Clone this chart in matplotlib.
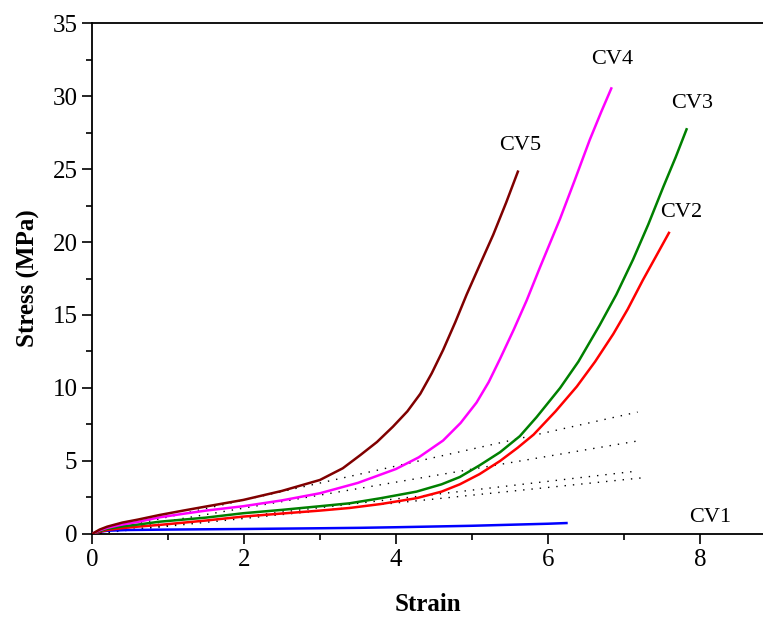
import matplotlib
matplotlib.use("Agg")
import matplotlib.pyplot as plt
from matplotlib.ticker import MultipleLocator

plt.rcParams["font.family"] = ["Liberation Serif", "DejaVu Serif"]

# strain / stress readings per sample
cv1_x = [0, 0.1, 0.2, 0.46, 1, 2, 3, 3.53, 4, 5, 6, 6.26]
cv1_y = [0, 0.15, 0.22, 0.27, 0.3, 0.34, 0.39, 0.42, 0.46, 0.56, 0.7, 0.75]

cv2_x = [0, 0.1, 0.2, 0.4, 0.6, 0.89, 1.5, 1.99, 2.5, 3.0, 3.39, 3.8, 4.27, 4.6,
         4.84, 5.1, 5.37, 5.6, 5.81, 6.1, 6.38, 6.62, 6.86, 7.05, 7.25, 7.42, 7.6]
cv2_y = [0, 0.15, 0.27, 0.4, 0.5, 0.62, 0.92, 1.19, 1.4, 1.6, 1.78, 2.05, 2.45, 2.9,
         3.4, 4.1, 5.0, 5.9, 6.8, 8.4, 10.1, 11.8, 13.7, 15.4, 17.4, 19.0, 20.7]

cv3_x = [0, 0.1, 0.2, 0.4, 0.6, 0.89, 1.5, 1.99, 2.5, 3.0, 3.39, 3.8, 4.27, 4.6,
         4.84, 5.1, 5.37, 5.63, 5.85, 6.16, 6.4, 6.68, 6.9, 7.12, 7.32, 7.52, 7.68, 7.83]
cv3_y = [0, 0.2, 0.35, 0.52, 0.64, 0.84, 1.12, 1.42, 1.65, 1.9, 2.1, 2.45, 2.9, 3.4,
         3.9, 4.7, 5.6, 6.7, 8.0, 10.0, 11.8, 14.3, 16.4, 18.8, 21.2, 23.8, 25.8, 27.8]

cv4_x = [0, 0.1, 0.2, 0.4, 0.6, 0.89, 1.2, 1.5, 1.99, 2.5, 3.0, 3.5, 4.0, 4.3,
         4.62, 4.85, 5.06, 5.22, 5.37, 5.55, 5.72, 5.89, 6.16, 6.35, 6.55, 6.7, 6.84]
cv4_y = [0, 0.25, 0.42, 0.65, 0.82, 1.14, 1.38, 1.6, 1.9, 2.3, 2.79, 3.5, 4.45, 5.25,
         6.4, 7.6, 9.0, 10.4, 12.0, 14.0, 16.0, 18.2, 21.6, 24.2, 27.0, 28.9, 30.6]

cv5_x = [0, 0.1, 0.2, 0.4, 0.6, 0.89, 1.2, 1.5, 1.99, 2.5, 3.0, 3.3, 3.53, 3.75,
         3.96, 4.15, 4.32, 4.47, 4.62, 4.78, 4.93, 5.1, 5.28, 5.45, 5.61]
cv5_y = [0, 0.3, 0.5, 0.78, 0.98, 1.3, 1.6, 1.88, 2.33, 2.95, 3.7, 4.5, 5.4, 6.3,
         7.35, 8.4, 9.6, 11.0, 12.6, 14.5, 16.4, 18.4, 20.5, 22.7, 24.9]

# linear fits of the initial region (start, end)
fit_x = [[0, 7.18], [0, 7.18], [0, 7.16], [0, 7.25]]
fit_y = [[0, 8.35], [0, 6.37], [0, 4.3], [0, 3.85]]

labels = ["CV1", "CV2", "CV3", "CV4", "CV5"]
label_x = [8.13, 7.75, 7.9, 6.84, 5.63]
label_y = [1.15, 22.0, 29.5, 32.5, 26.6]

fig = plt.figure(figsize=(7.63, 6.18), dpi=100)
ax = fig.add_axes([0.1206, 0.136, 0.8794, 0.8267])

series = [(cv1_x, cv1_y, "#0000ff"), (cv2_x, cv2_y, "#ff0000"),
          (cv3_x, cv3_y, "#008000"), (cv4_x, cv4_y, "#ff00ff"),
          (cv5_x, cv5_y, "#800000")]
for xs, ys, c in series:
    ax.plot(xs, ys, color=c, linewidth=1.8, zorder=3,
            solid_joinstyle="round", solid_capstyle="butt")

for xs, ys in zip(fit_x, fit_y):
    ax.plot(xs, ys, color="black", linewidth=1.0, linestyle=(0, (1, 5)), zorder=2)

for t, x, y in zip(labels, label_x, label_y):
    ax.text(x, y, t, fontsize=16, ha="center", va="center")

ax.set_xlim(0, 8.83)
ax.set_ylim(0, 35)
ax.xaxis.set_major_locator(MultipleLocator(2))
ax.xaxis.set_minor_locator(MultipleLocator(1))
ax.yaxis.set_major_locator(MultipleLocator(5))
ax.yaxis.set_minor_locator(MultipleLocator(2.5))
ax.tick_params(which="major", direction="out", length=7, width=1.2, labelsize=18)
ax.tick_params(which="minor", direction="out", length=4, width=1.2)
ax.spines["right"].set_visible(False)
for s in ["left", "bottom", "top"]:
    ax.spines[s].set_linewidth(1.3)

ax.set_xlabel("Strain", fontsize=18, fontweight="bold", labelpad=16)
ax.set_ylabel("Stress (MPa)", fontsize=18, fontweight="bold", labelpad=9)

fig.savefig("out.png", dpi=100)
